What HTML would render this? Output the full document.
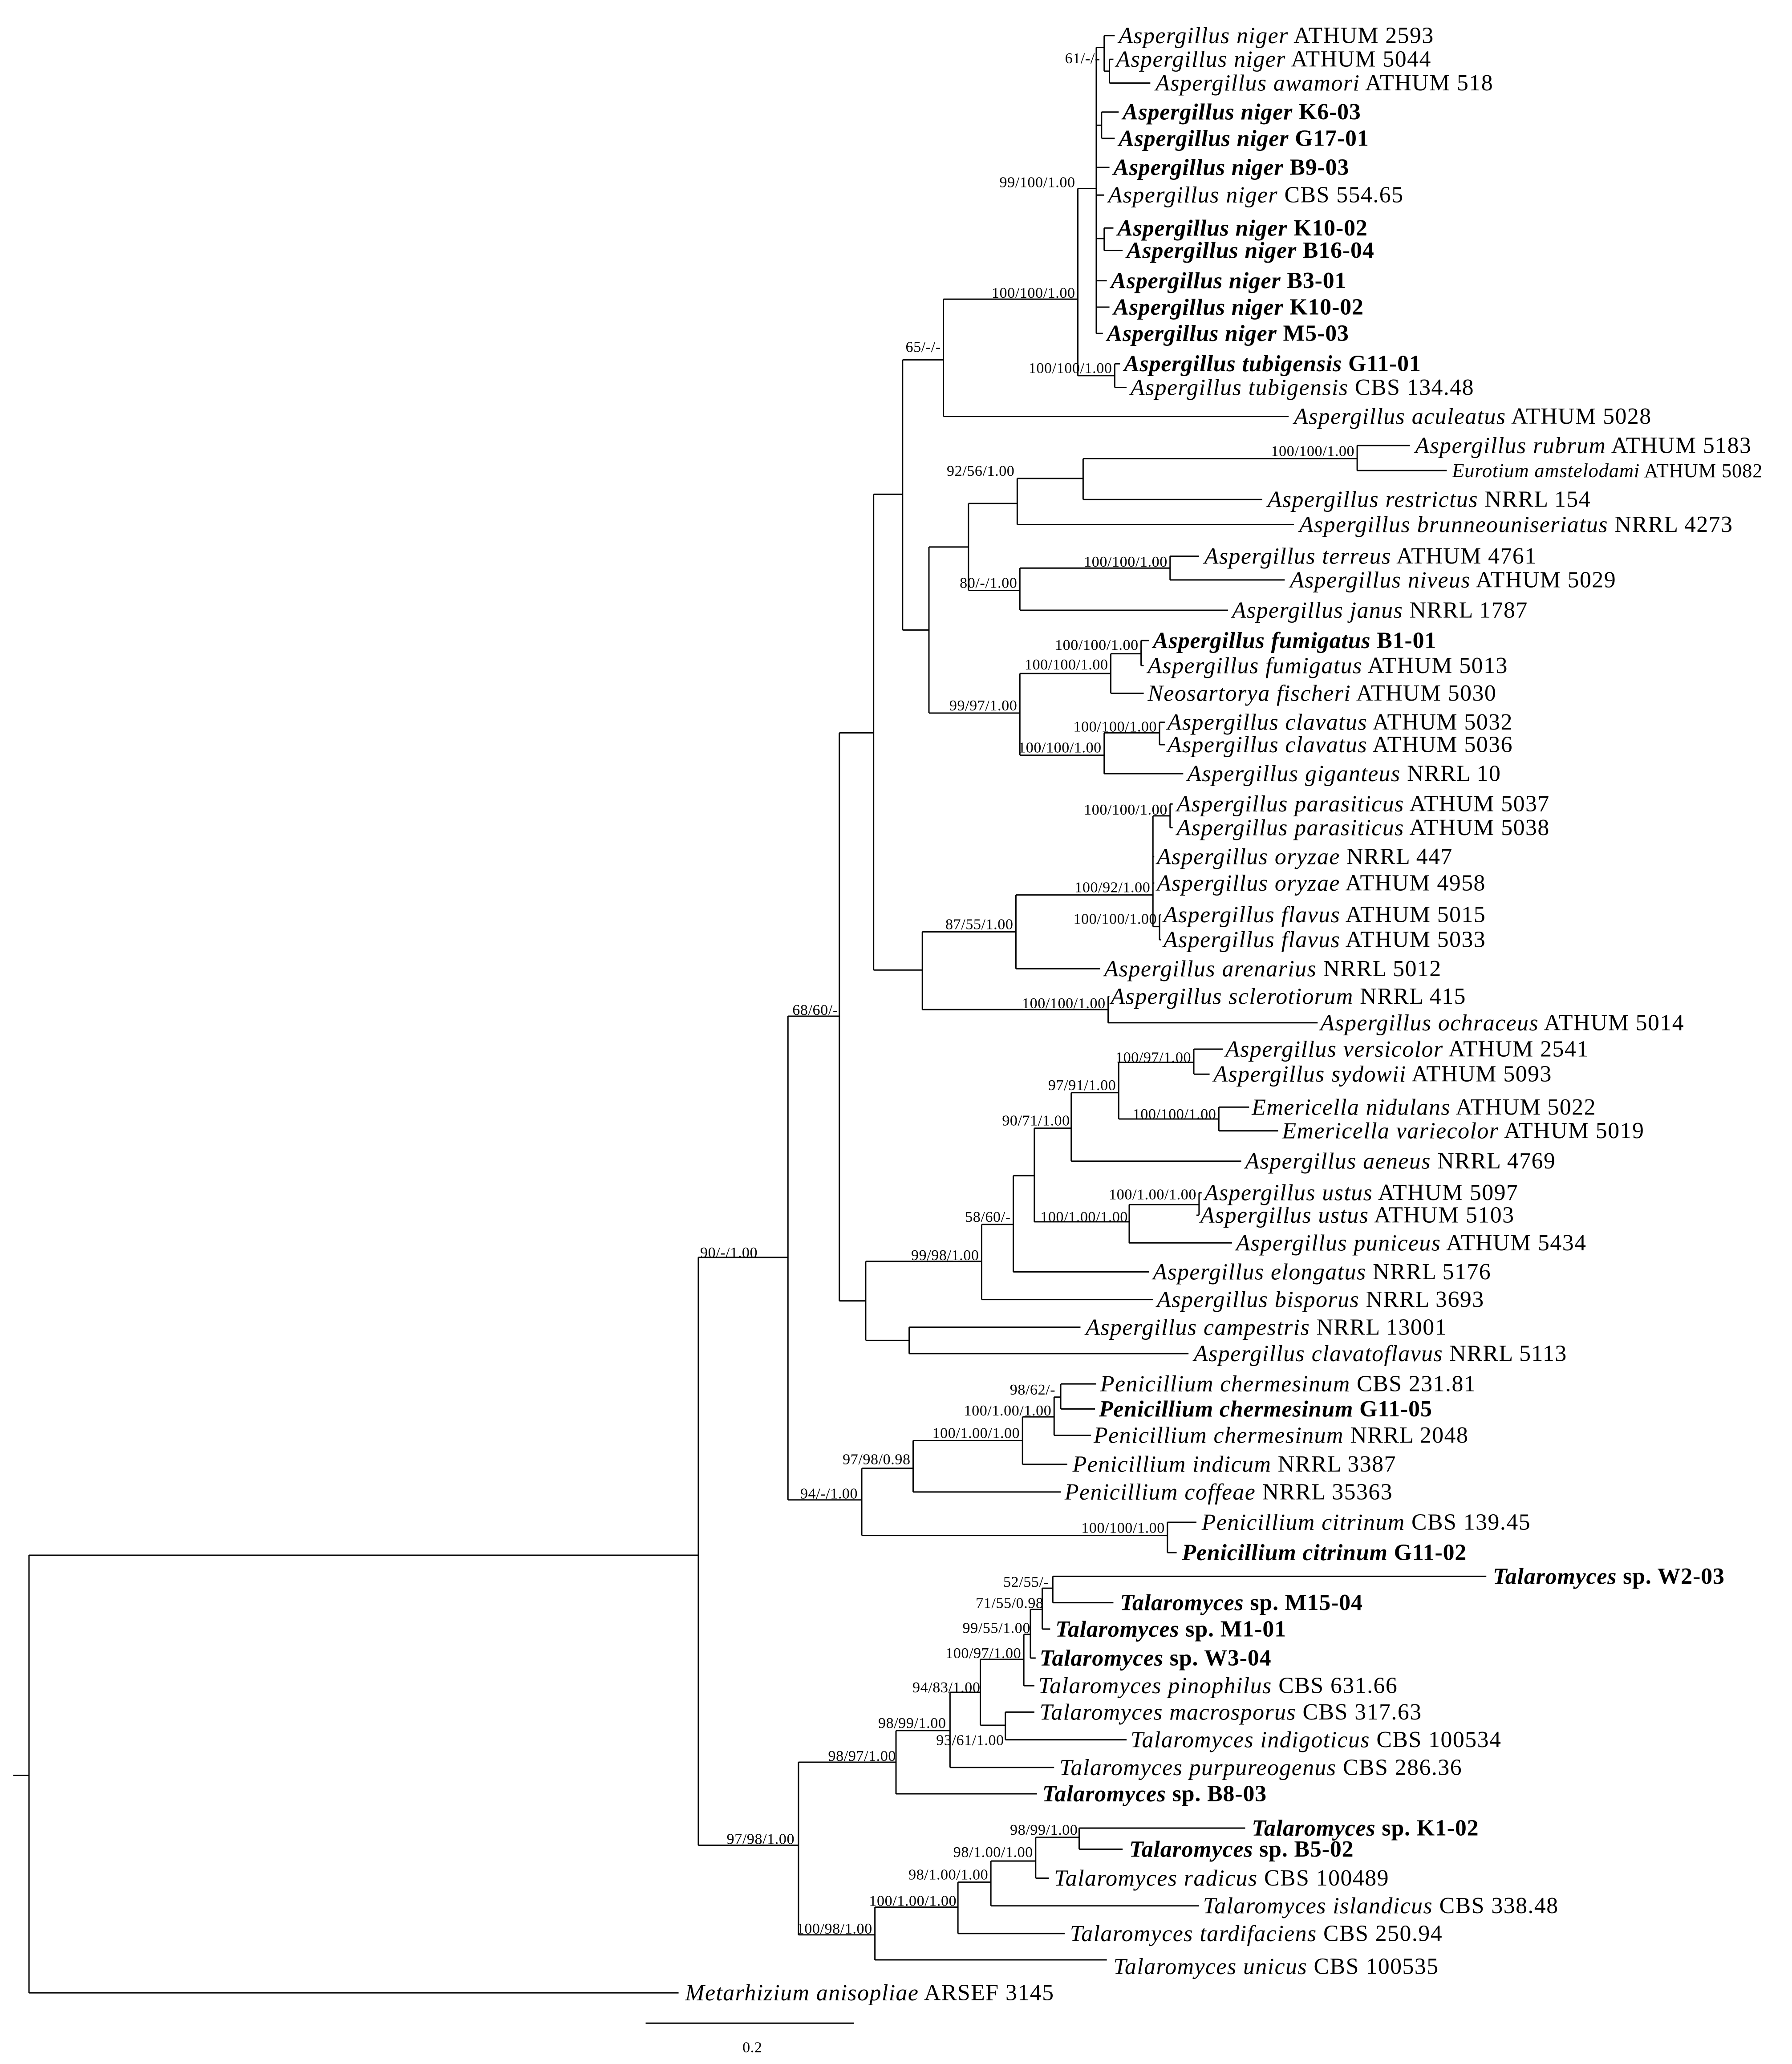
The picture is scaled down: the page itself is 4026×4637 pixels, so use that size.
<!DOCTYPE html>
<html><head><meta charset="utf-8"><style>
html,body{margin:0;padding:0;background:#fff}
svg{display:block}
text{font-family:"Liberation Serif",serif;fill:#000}
.t{font-size:17.5px;letter-spacing:0.5px}
.b{font-size:17.5px;font-weight:bold;letter-spacing:0.3px}
.s{font-size:11.5px;letter-spacing:0.2px}
</style></head><body>
<svg width="4026" height="4637" viewBox="0 0 1360 1566" preserveAspectRatio="none" xmlns="http://www.w3.org/2000/svg">
<path fill="none" stroke="#000" stroke-width="1" d="
M10 1347H22 M22 1180V1512 M22 1180H530 M22 1512H515 M530 954V1400 M530 954H598 M530 1400H606
M598 771V1138 M598 771H637 M598 1138H654
M637 556V987 M637 556H663 M637 987H657
M663 375V736 M663 375H685 M663 736H700
M685 273V478 M685 273H716 M685 478H705
M716 227V316 M716 227H818 M716 316H978
M818 143V285 M818 143H832 M818 285H846
M832 36V253 M832 36H838 M838 27V54 M838 27H846 M838 54H842 M842 45V63 M842 45H845 M842 63H873
M832 95H836 M836 85V105 M836 85H849 M836 105H846
M832 127H842 M832 148H838
M832 181H838 M838 173V190 M838 173H845 M838 190H852
M832 213H840 M832 233H842 M832 253H837
M846 276V294 M846 276H850 M846 294H855
M705 415V541 M705 415H735 M705 541H774
M735 382V448 M735 382H772 M735 448H774
M772 363V398 M772 363H822 M772 398H982
M822 348V379 M822 348H1030 M822 379H958
M1030 338V357 M1030 338H1070 M1030 357H1098
M774 431V463 M774 431H888 M774 463H932
M888 422V440 M888 422H910 M888 440H975
M774 511V573 M774 511H843 M774 573H838
M843 496V526 M843 496H866 M843 526H868
M866 486V505 M866 486H872 M866 505H868
M838 556V587 M838 556H880 M838 587H898
M880 548V565 M880 548H884 M880 565H884
M700 707V766 M700 707H771 M700 766H841
M771 679V735 M771 679H875 M771 735H835
M875 619V703 M875 619H888 M875 650H876 M875 670H876 M875 703H880
M888 610V628 M888 610H890 M888 628H890
M880 694V713 M880 694H881 M880 713H881
M841 756V776 M841 756H842 M841 776H1000
M657 957V1017 M657 957H745 M657 1017H690
M745 929V986 M745 929H769 M745 986H875
M769 892V965 M769 892H785 M769 965H872
M785 856V927 M785 856H813 M785 927H857
M813 829V881 M813 829H849 M813 881H942
M849 806V849 M849 806H906 M849 849H925
M906 796V815 M906 796H928 M906 815H918
M925 840V858 M925 840H948 M925 858H970
M857 914V943 M857 914H910 M857 943H935
M910 905V922 M910 905H912 M910 922H908
M690 1007V1027 M690 1007H820 M690 1027H902
M654 1114V1165 M654 1114H693 M654 1165H886
M693 1093V1132 M693 1093H776 M693 1132H805
M776 1075V1111 M776 1075H800 M776 1111H810
M800 1060V1089 M800 1060H805 M800 1089H828
M805 1050V1069 M805 1050H832 M805 1069H831
M886 1155V1178 M886 1155H908 M886 1178H893
M606 1337V1468 M606 1337H680 M606 1468H664
M680 1313V1361 M680 1313H721 M680 1361H787
M721 1284V1341 M721 1284H744 M721 1341H800
M744 1259V1309 M744 1259H777 M744 1309H763
M763 1299V1320 M763 1299H785 M763 1320H855
M777 1240V1279 M777 1240H782 M777 1279H785
M782 1221V1258 M782 1221H791 M782 1258H786
M791 1205V1236 M791 1205H799 M791 1236H797
M799 1196V1216 M799 1196H1128 M799 1216H845
M664 1447V1487 M664 1447H727 M664 1487H840
M727 1428V1467 M727 1428H752 M727 1467H808
M752 1412V1446 M752 1412H786 M752 1446H910
M786 1394V1425 M786 1394H819 M786 1425H796
M819 1387V1403 M819 1387H945 M819 1403H852
M490 1535H648"/>
<g dominant-baseline="central">
<text x="849" y="27" class="t"><tspan font-style="italic">Aspergillus niger</tspan>  ATHUM 2593</text>
<text x="847" y="45" class="t"><tspan font-style="italic">Aspergillus niger</tspan> ATHUM 5044</text>
<text x="877" y="63" class="t"><tspan font-style="italic">Aspergillus awamori</tspan> ATHUM 518</text>
<text x="852" y="85" class="b"><tspan font-style="italic">Aspergillus niger</tspan> K6-03</text>
<text x="849" y="105" class="b"><tspan font-style="italic">Aspergillus niger</tspan> G17-01</text>
<text x="845" y="127" class="b"><tspan font-style="italic">Aspergillus niger</tspan> B9-03</text>
<text x="841" y="148" class="t"><tspan font-style="italic">Aspergillus niger</tspan> CBS 554.65</text>
<text x="848" y="173" class="b"><tspan font-style="italic">Aspergillus niger</tspan> K10-02</text>
<text x="855" y="190" class="b"><tspan font-style="italic">Aspergillus niger</tspan> B16-04</text>
<text x="843" y="213" class="b"><tspan font-style="italic">Aspergillus niger</tspan> B3-01</text>
<text x="845" y="233" class="b"><tspan font-style="italic">Aspergillus niger</tspan> K10-02</text>
<text x="840" y="253" class="b"><tspan font-style="italic">Aspergillus niger</tspan> M5-03</text>
<text x="853" y="276" class="b"><tspan font-style="italic">Aspergillus tubigensis</tspan> G11-01</text>
<text x="858" y="294" class="t"><tspan font-style="italic">Aspergillus tubigensis</tspan> CBS 134.48</text>
<text x="982" y="316" class="t"><tspan font-style="italic">Aspergillus aculeatus</tspan> ATHUM 5028</text>
<text x="1074" y="338" class="t"><tspan font-style="italic">Aspergillus rubrum</tspan> ATHUM 5183</text>
<text x="1102" y="357" class="t" style="font-size:15px;letter-spacing:0.3px"><tspan font-style="italic">Eurotium amstelodami</tspan> ATHUM 5082</text>
<text x="962" y="379" class="t"><tspan font-style="italic">Aspergillus restrictus</tspan> NRRL 154</text>
<text x="986" y="398" class="t"><tspan font-style="italic">Aspergillus brunneouniseriatus</tspan> NRRL 4273</text>
<text x="914" y="422" class="t"><tspan font-style="italic">Aspergillus terreus</tspan> ATHUM 4761</text>
<text x="979" y="440" class="t"><tspan font-style="italic">Aspergillus niveus</tspan> ATHUM 5029</text>
<text x="935" y="463" class="t"><tspan font-style="italic">Aspergillus janus</tspan> NRRL 1787</text>
<text x="875" y="486" class="b"><tspan font-style="italic">Aspergillus fumigatus</tspan> B1-01</text>
<text x="871" y="505" class="t"><tspan font-style="italic">Aspergillus fumigatus</tspan> ATHUM 5013</text>
<text x="871" y="526" class="t"><tspan font-style="italic">Neosartorya fischeri</tspan> ATHUM 5030</text>
<text x="886" y="548" class="t"><tspan font-style="italic">Aspergillus clavatus</tspan> ATHUM 5032</text>
<text x="886" y="565" class="t"><tspan font-style="italic">Aspergillus clavatus</tspan> ATHUM 5036</text>
<text x="901" y="587" class="t"><tspan font-style="italic">Aspergillus giganteus</tspan> NRRL 10</text>
<text x="893" y="610" class="t"><tspan font-style="italic">Aspergillus parasiticus</tspan> ATHUM 5037</text>
<text x="893" y="628" class="t"><tspan font-style="italic">Aspergillus parasiticus</tspan> ATHUM 5038</text>
<text x="878" y="650" class="t"><tspan font-style="italic">Aspergillus oryzae</tspan> NRRL 447</text>
<text x="878" y="670" class="t"><tspan font-style="italic">Aspergillus oryzae</tspan> ATHUM 4958</text>
<text x="883" y="694" class="t"><tspan font-style="italic">Aspergillus flavus</tspan> ATHUM 5015</text>
<text x="883" y="713" class="t"><tspan font-style="italic">Aspergillus flavus</tspan> ATHUM 5033</text>
<text x="838" y="735" class="t"><tspan font-style="italic">Aspergillus arenarius</tspan> NRRL 5012</text>
<text x="843" y="756" class="t"><tspan font-style="italic">Aspergillus sclerotiorum</tspan> NRRL 415</text>
<text x="1002" y="776" class="t"><tspan font-style="italic">Aspergillus ochraceus</tspan> ATHUM 5014</text>
<text x="930" y="796" class="t"><tspan font-style="italic">Aspergillus versicolor</tspan> ATHUM 2541</text>
<text x="921" y="815" class="t"><tspan font-style="italic">Aspergillus sydowii</tspan> ATHUM 5093</text>
<text x="950" y="840" class="t"><tspan font-style="italic">Emericella nidulans</tspan> ATHUM 5022</text>
<text x="973" y="858" class="t"><tspan font-style="italic">Emericella variecolor</tspan> ATHUM 5019</text>
<text x="945" y="881" class="t"><tspan font-style="italic">Aspergillus aeneus</tspan> NRRL 4769</text>
<text x="914" y="905" class="t"><tspan font-style="italic">Aspergillus ustus</tspan> ATHUM 5097</text>
<text x="911" y="922" class="t"><tspan font-style="italic">Aspergillus ustus</tspan> ATHUM 5103</text>
<text x="938" y="943" class="t"><tspan font-style="italic">Aspergillus puniceus</tspan> ATHUM 5434</text>
<text x="875" y="965" class="t"><tspan font-style="italic">Aspergillus elongatus</tspan> NRRL 5176</text>
<text x="878" y="986" class="t"><tspan font-style="italic">Aspergillus bisporus</tspan> NRRL 3693</text>
<text x="824" y="1007" class="t"><tspan font-style="italic">Aspergillus campestris</tspan> NRRL 13001</text>
<text x="906" y="1027" class="t"><tspan font-style="italic">Aspergillus clavatoflavus</tspan> NRRL 5113</text>
<text x="835" y="1050" class="t"><tspan font-style="italic">Penicillium chermesinum</tspan>  CBS 231.81</text>
<text x="834" y="1069" class="b"><tspan font-style="italic">Penicillium chermesinum</tspan> G11-05</text>
<text x="830" y="1089" class="t"><tspan font-style="italic">Penicillium chermesinum</tspan> NRRL 2048</text>
<text x="814" y="1111" class="t"><tspan font-style="italic">Penicillium indicum</tspan> NRRL 3387</text>
<text x="808" y="1132" class="t"><tspan font-style="italic">Penicillium coffeae</tspan> NRRL 35363</text>
<text x="912" y="1155" class="t"><tspan font-style="italic">Penicillium citrinum</tspan> CBS 139.45</text>
<text x="897" y="1178" class="b"><tspan font-style="italic">Penicillium citrinum</tspan> G11-02</text>
<text x="1133" y="1196" class="b"><tspan font-style="italic">Talaromyces</tspan> sp. W2-03</text>
<text x="850" y="1216" class="b"><tspan font-style="italic">Talaromyces</tspan> sp. M15-04</text>
<text x="801" y="1236" class="b"><tspan font-style="italic">Talaromyces</tspan> sp. M1-01</text>
<text x="789" y="1258" class="b"><tspan font-style="italic">Talaromyces</tspan> sp. W3-04</text>
<text x="788" y="1279" class="t"><tspan font-style="italic">Talaromyces pinophilus</tspan> CBS 631.66</text>
<text x="789" y="1299" class="t"><tspan font-style="italic">Talaromyces macrosporus</tspan> CBS 317.63</text>
<text x="858" y="1320" class="t"><tspan font-style="italic">Talaromyces indigoticus</tspan> CBS 100534</text>
<text x="804" y="1341" class="t"><tspan font-style="italic">Talaromyces purpureogenus</tspan> CBS 286.36</text>
<text x="791" y="1361" class="b"><tspan font-style="italic">Talaromyces</tspan> sp. B8-03</text>
<text x="950" y="1387" class="b"><tspan font-style="italic">Talaromyces</tspan> sp. K1-02</text>
<text x="857" y="1403" class="b"><tspan font-style="italic">Talaromyces</tspan> sp. B5-02</text>
<text x="800" y="1425" class="t"><tspan font-style="italic">Talaromyces radicus</tspan> CBS 100489</text>
<text x="913" y="1446" class="t"><tspan font-style="italic">Talaromyces islandicus</tspan> CBS 338.48</text>
<text x="812" y="1467" class="t"><tspan font-style="italic">Talaromyces tardifaciens</tspan> CBS 250.94</text>
<text x="845" y="1492" class="t"><tspan font-style="italic">Talaromyces unicus</tspan> CBS 100535</text>
<text x="520" y="1512" class="t"><tspan font-style="italic">Metarhizium anisopliae</tspan> ARSEF 3145</text>
</g>
<g text-anchor="end">
<text x="835" y="48" class="s">61/-/-</text>
<text x="816" y="142" class="s">99/100/1.00</text>
<text x="816" y="226" class="s">100/100/1.00</text>
<text x="844" y="283" class="s">100/100/1.00</text>
<text x="714" y="267" class="s">65/-/-</text>
<text x="770" y="361" class="s">92/56/1.00</text>
<text x="1028" y="346" class="s">100/100/1.00</text>
<text x="772" y="446" class="s">80/-/1.00</text>
<text x="886" y="430" class="s">100/100/1.00</text>
<text x="864" y="493" class="s">100/100/1.00</text>
<text x="841" y="508" class="s">100/100/1.00</text>
<text x="772" y="539" class="s">99/97/1.00</text>
<text x="878" y="555" class="s">100/100/1.00</text>
<text x="836" y="571" class="s">100/100/1.00</text>
<text x="886" y="618" class="s">100/100/1.00</text>
<text x="873" y="677" class="s">100/92/1.00</text>
<text x="878" y="701" class="s">100/100/1.00</text>
<text x="769" y="705" class="s">87/55/1.00</text>
<text x="839" y="765" class="s">100/100/1.00</text>
<text x="636" y="770" class="s">68/60/-</text>
<text x="904" y="806" class="s">100/97/1.00</text>
<text x="847" y="827" class="s">97/91/1.00</text>
<text x="923" y="849" class="s">100/100/1.00</text>
<text x="812" y="854" class="s">90/71/1.00</text>
<text x="908" y="910" class="s">100/1.00/1.00</text>
<text x="856" y="927" class="s">100/1.00/1.00</text>
<text x="767" y="927" class="s">58/60/-</text>
<text x="743" y="956" class="s">99/98/1.00</text>
<text x="575" y="954" class="s">90/-/1.00</text>
<text x="801" y="1058" class="s">98/62/-</text>
<text x="798" y="1074" class="s">100/1.00/1.00</text>
<text x="774" y="1091" class="s">100/1.00/1.00</text>
<text x="691" y="1111" class="s">97/98/0.98</text>
<text x="651" y="1137" class="s">94/-/1.00</text>
<text x="884" y="1163" class="s">100/100/1.00</text>
<text x="796" y="1204" class="s">52/55/-</text>
<text x="792" y="1220" class="s">71/55/0.98</text>
<text x="782" y="1239" class="s">99/55/1.00</text>
<text x="775" y="1258" class="s">100/97/1.00</text>
<text x="744" y="1284" class="s">94/83/1.00</text>
<text x="718" y="1311" class="s">98/99/1.00</text>
<text x="762" y="1324" class="s">93/61/1.00</text>
<text x="680" y="1336" class="s">98/97/1.00</text>
<text x="603" y="1399" class="s">97/98/1.00</text>
<text x="818" y="1392" class="s">98/99/1.00</text>
<text x="784" y="1409" class="s">98/1.00/1.00</text>
<text x="750" y="1426" class="s">98/1.00/1.00</text>
<text x="726" y="1446" class="s">100/1.00/1.00</text>
<text x="662" y="1467" class="s">100/98/1.00</text>
</g>
<text x="571" y="1557" class="s" text-anchor="middle">0.2</text>
</svg>
</body></html>
